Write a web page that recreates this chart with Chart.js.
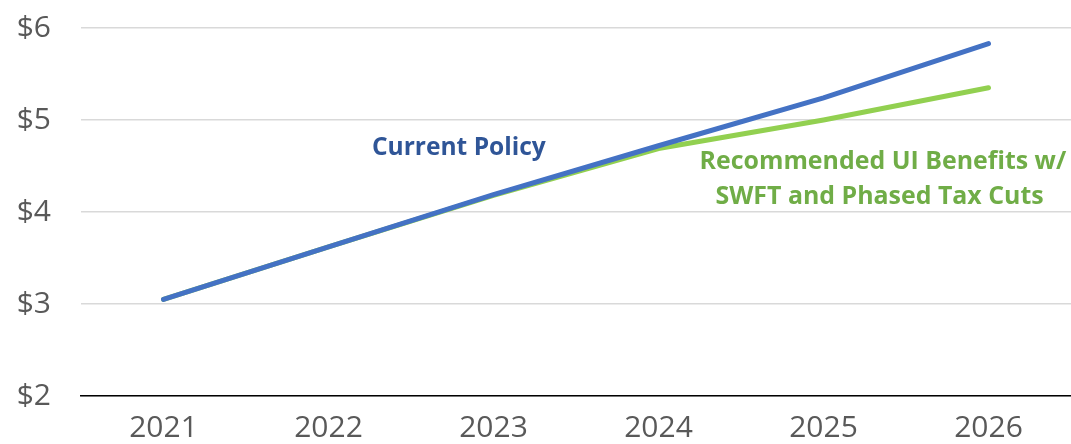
<!DOCTYPE html>
<html>
<head>
<meta charset="utf-8">
<script src="https://cdn.jsdelivr.net/npm/chart.js@4"></script>
<style>
  html, body { margin: 0; padding: 0; background: #fff; }
  #wrap { width: 1071px; height: 444px; }
</style>
</head>
<body>
<div id="wrap"><canvas id="chart"></canvas></div>
<script>
var years = ['2021', '2022', '2023', '2024', '2025', '2026'];
var currentPolicy = [3.05, 3.62, 4.19, 4.72, 5.24, 5.83];
var recommended = [3.05, 3.62, 4.18, 4.69, 5.00, 5.35];
var yTicks = [2, 3, 4, 5, 6];

var FONT = '"Open Sans", "Liberation Sans", sans-serif';

// libellés posés sur le graphique
var labelsPlugin = {
    id: 'seriesLabels',
    afterDatasetsDraw: function(chart) {
        var ctx = chart.ctx;
        var x = chart.scales.x, y = chart.scales.y;
        function fitText(text, bold, width) {
            ctx.font = (bold ? 'bold ' : '') + '20px ' + FONT;
            var w = ctx.measureText(text).width;
            return 20 * width / w;
        }
        ctx.save();
        ctx.textAlign = 'center';
        ctx.textBaseline = 'middle';

        var s = fitText('Current Policy', true, 174);
        ctx.font = 'bold ' + s + 'px ' + FONT;
        ctx.fillStyle = '#2F5597';
        ctx.fillText('Current Policy', x.getPixelForValue(1.79), y.getPixelForValue(4.70));

        var s2 = fitText('Recommended UI Benefits w/', true, 367);
        ctx.font = 'bold ' + s2 + 'px ' + FONT;
        ctx.fillStyle = '#70AD47';
        ctx.fillText('Recommended UI Benefits w/', x.getPixelForValue(4.36), y.getPixelForValue(4.54));
        ctx.fillText('SWFT and Phased Tax Cuts', x.getPixelForValue(4.34), y.getPixelForValue(4.16));
        ctx.restore();
    }
};

document.addEventListener("DOMContentLoaded", function() {
    var ctx = document.getElementById("chart").getContext('2d');

    var data = {
        labels: years,
        datasets: [{
            label: 'Current Policy',
            data: currentPolicy,
            borderColor: '#4472C4',
            borderWidth: 5,
            pointRadius: 0,
            borderCapStyle: 'round',
            tension: 0,
            order: 1
        }, {
            label: 'Recommended UI Benefits w/ SWFT and Phased Tax Cuts',
            data: recommended,
            borderColor: '#92D050',
            borderWidth: 5,
            pointRadius: 0,
            borderCapStyle: 'round',
            tension: 0,
            order: 2
        }]
    };

    var chartOptions = {
        responsive: true,
        maintainAspectRatio: false,
        animation: false,
        layout: { padding: { top: 28, right: 0, bottom: 0, left: 0 } },
        plugins: {
            legend: { display: false },
            tooltip: { enabled: false }
        },
        scales: {
            x: {
                offset: true,
                grid: { display: false, drawTicks: false },
                border: { display: true, color: '#000000', width: 1.5 },
                ticks: { color: '#595959', font: { family: FONT, size: 30 }, padding: 14 },
                afterFit: function(axis) {
                    axis.height = 48;
                    axis.paddingLeft = 0;
                    axis.paddingRight = 0;
                }
            },
            y: {
                min: 2,
                max: 6,
                afterBuildTicks: function(axis) {
                    axis.ticks = yTicks.map(function(v) { return { value: v }; });
                },
                grid: { color: '#D9D9D9', lineWidth: 1.5, drawTicks: false },
                border: { display: false },
                ticks: {
                    color: '#595959',
                    font: { family: FONT, size: 30 },
                    padding: 30,
                    callback: function(v) { return '$' + v; }
                },
                afterFit: function(axis) {
                    axis.width = 81;
                    axis.paddingTop = 0;
                    axis.paddingBottom = 0;
                }
            }
        }
    };

    new Chart(ctx, {
        type: 'line',
        data: data,
        options: chartOptions,
        plugins: [labelsPlugin]
    });
});
</script>
</body>
</html>
